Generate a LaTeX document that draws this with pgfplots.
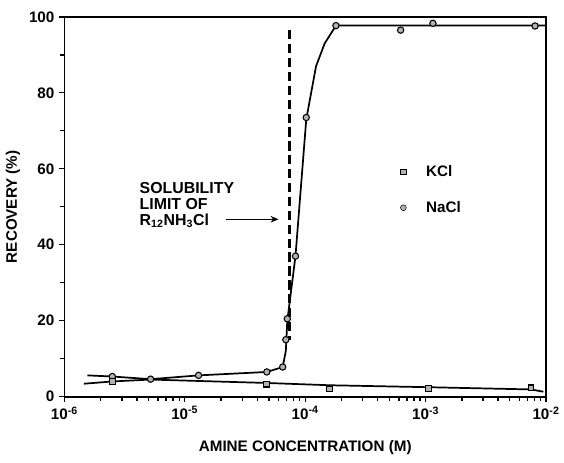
\documentclass[border=0pt]{standalone}
\usepackage{pgfplots}
\pgfplotsset{compat=1.18}
\usepackage{fontspec}
\setmainfont{Liberation Sans}
\usetikzlibrary{arrows.meta}
\begin{document}
\begin{tikzpicture}
\begin{axis}[
  width=364pt, height=287pt, scale only axis,
  xmode=log, xmin=1e-6, xmax=1e-2, ymin=0, ymax=100,
  xtick={1e-6,1e-5,1e-4,1e-3,1e-2},
  xticklabels={10\textsuperscript{-6},10\textsuperscript{-5},10\textsuperscript{-4},10\textsuperscript{-3},10\textsuperscript{-2}},
  ytick={0,20,40,60,80,100}, minor ytick={10,30,50,70,90},
  tick align=outside, xtick pos=left, ytick pos=left,
  major tick length=4pt, minor tick length=3pt,
  every tick/.style={black, line width=1pt},
  /pgf/number format/assume math mode=true,
  font=\bfseries\fontsize{11.5}{13}\selectfont,
  tick label style={font=\bfseries\fontsize{11.5}{13}\selectfont},
  label style={font=\bfseries\fontsize{11.5}{13}\selectfont},
  xlabel={AMINE CONCENTRATION (M)}, ylabel={RECOVERY (\%)},
  xlabel style={yshift=-9pt},
  axis line style={line width=1.3pt},
  legend style={draw=none, fill=none, at={(rel axis cs:0.689,0.545)}, anchor=west,
    row sep=13.5pt, font=\bfseries\fontsize{11.5}{13}\selectfont},
  legend cell align=left,
  clip=false,
]
\addlegendimage{only marks, mark=square*, mark size=2pt, mark options={fill=gray!60, draw=black}}
\addlegendentry{\hspace{13pt}KCl}
\addlegendimage{only marks, mark=*, mark size=2.2pt, mark options={fill=gray!60, draw=black}}
\addlegendentry{\hspace{13pt}NaCl}
% upper curve (line)
\addplot[forget plot, black, line width=1.3pt] coordinates {
 (1.55e-6,5.6) (2.5e-6,5.3) (5.2e-6,4.6) (1.3e-5,5.6) (4.8e-5,6.5) (6.5e-5,7.8)
 (6.9e-5,12) (7.1e-5,20) (8.3e-5,37) (1.02e-4,73) (1.23e-4,87) (1.45e-4,93) (1.8e-4,97.7) (1e-2,97.7)};
% upper curve markers
\addplot[forget plot, only marks, mark=*, mark size=2.4pt, mark options={fill=gray!60, draw=black, line width=0.8pt}] coordinates {
 (2.5e-6,5.3) (5.2e-6,4.6) (1.3e-5,5.6) (4.8e-5,6.5) (6.5e-5,7.8) (6.9e-5,15) (7.1e-5,20.5)
 (8.3e-5,37) (1.02e-4,73.5) (1.8e-4,97.7) (6.2e-4,96.5) (1.15e-3,98.3) (8.1e-3,97.6)};
% lower curve (line)
\addplot[forget plot, black, line width=1.3pt] coordinates {
 (1.45e-6,3.4) (2.5e-6,4.0) (5.2e-6,4.5) (4.8e-5,3.6) (1.6e-4,3.0) (1e-3,2.5) (7.5e-3,1.9) (9.5e-3,1.3)};
% lower curve markers
\addplot[forget plot, only marks, mark=square*, mark size=2.2pt, mark options={fill=gray!60, draw=black, line width=0.8pt}] coordinates {
 (2.5e-6,4.0) (4.8e-5,3.3) (1.6e-4,2.0) (1.05e-3,2.1) (7.5e-3,2.3)};
% solubility limit
\addplot[forget plot, black, line width=1.6pt, dash pattern=on 7pt off 3.5pt] coordinates {(7.4e-5,96.5) (7.4e-5,15)};
\node[anchor=north west, align=left, inner sep=0pt, font=\bfseries\fontsize{12}{12}\selectfont]
  at (axis cs:4.2e-6,56.5) {SOLUBILITY\\LIMIT OF\\R\textsubscript{12}NH\textsubscript{3}Cl};
\draw[-{Stealth[length=6pt,width=5pt]}, line width=1.1pt] (axis cs:2.2e-5,46.7) -- (axis cs:6.0e-5,46.7);
\path (rel axis cs:-0.1337,-0.1723) rectangle (rel axis cs:1.0267,1.0444);
\end{axis}
\end{tikzpicture}
\end{document}
